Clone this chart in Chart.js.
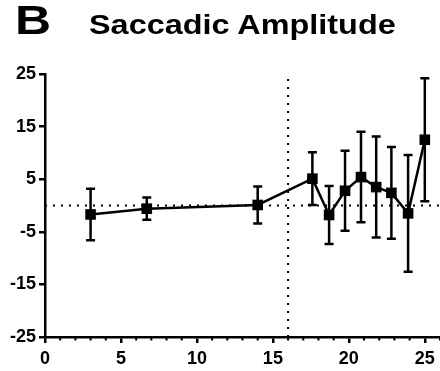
<!DOCTYPE html>
<html>
<head>
<meta charset="utf-8">
<script src="https://cdn.jsdelivr.net/npm/chart.js@4/dist/chart.umd.min.js"></script>
<style>
  html, body { margin: 0; padding: 0; background: #fff; }
  #wrap { position: relative; width: 440px; height: 371px; overflow: hidden; }
  #panel { position: absolute; left: 15px; top: -2px; font: bold 40px "Liberation Sans", Arial, sans-serif; line-height: 44px; color: #000; transform: scaleX(1.25); transform-origin: left top; }
  #title { position: absolute; left: 89px; top: 10px; font: bold 27px "Liberation Sans", Arial, sans-serif; line-height: 30px; color: #000; transform: scaleX(1.2); transform-origin: left top; white-space: nowrap; }
  canvas { position: absolute; left: 0; top: 0; }
</style>
</head>
<body>
<div id="wrap">
  <canvas id="c" width="440" height="371"></canvas>
  <div id="panel">B</div>
  <div id="title">Saccadic Amplitude</div>
</div>
<script>
const xValues = [3, 6.7, 14, 17.6, 18.7, 19.75, 20.8, 21.8, 22.8, 23.9, 25];
const meanValues = [-1.7, -0.6, 0.1, 5.1, -1.8, 2.8, 5.4, 3.5, 2.4, -1.5, 12.5];
const errValues = [4.9, 2.1, 3.5, 5.0, 5.5, 7.6, 8.6, 9.6, 8.7, 11.1, 11.7];
const xTickLabels = [0, 5, 10, 15, 20, 25];
const yTickLabels = [-25, -15, -5, 5, 15, 25];
const xRange = [0, 26];
const yRange = [-25, 25];
const refX = 16;
const refY = 0;

const points = xValues.map((x, i) => ({ x: x, y: meanValues[i] }));

const errorBarPlugin = {
  id: 'errorBars',
  afterDatasetsDraw(chart) {
    const xs = chart.scales.x, ys = chart.scales.y;
    const ctx = chart.ctx;
    ctx.save();
    ctx.strokeStyle = '#000';
    ctx.lineWidth = 2.5;
    ctx.lineCap = 'butt';
    xValues.forEach((x, i) => {
      const px = xs.getPixelForValue(x);
      const top = ys.getPixelForValue(meanValues[i] + errValues[i]);
      const bot = ys.getPixelForValue(meanValues[i] - errValues[i]);
      ctx.beginPath();
      ctx.moveTo(px, top); ctx.lineTo(px, bot);
      ctx.moveTo(px - 4.5, top); ctx.lineTo(px + 4.5, top);
      ctx.moveTo(px - 4.5, bot); ctx.lineTo(px + 4.5, bot);
      ctx.stroke();
    });
    ctx.restore();
  }
};

const minorTickPlugin = {
  id: 'minorTicks',
  afterDraw(chart) {
    const xs = chart.scales.x;
    const ctx = chart.ctx;
    const y0 = chart.chartArea.bottom;
    ctx.save();
    ctx.strokeStyle = '#000';
    ctx.lineWidth = 2;
    for (let v = xRange[0]; v <= xRange[1]; v++) {
      if (v % 5 === 0) continue;
      const px = xs.getPixelForValue(v);
      ctx.beginPath();
      ctx.moveTo(px, y0); ctx.lineTo(px, y0 + 3.5);
      ctx.stroke();
    }
    ctx.restore();
  }
};

const tickFont = { family: '"Liberation Sans", Arial, sans-serif', size: 18, weight: 'bold' };

new Chart(document.getElementById('c'), {
  type: 'scatter',
  data: {
    datasets: [
      {
        data: [{ x: xRange[0], y: refY }, { x: xRange[1], y: refY }],
        showLine: true, borderColor: '#000', borderWidth: 2, borderDash: [2, 6],
        pointRadius: 0, order: 3
      },
      {
        data: [{ x: refX, y: yRange[0] }, { x: refX, y: yRange[1] }],
        showLine: true, borderColor: '#000', borderWidth: 2, borderDash: [2, 6],
        pointRadius: 0, order: 2
      },
      {
        data: points,
        showLine: true, borderColor: '#000', borderWidth: 2.5, tension: 0,
        pointStyle: 'rect', pointRadius: 7.5, pointBackgroundColor: '#000',
        pointBorderColor: '#000', pointBorderWidth: 0, order: 1
      }
    ]
  },
  options: {
    responsive: false,
    animation: false,
    events: [],
    layout: { autoPadding: false, padding: { top: 74, right: 0, left: 0, bottom: 0 } },
    plugins: { legend: { display: false }, tooltip: { enabled: false } },
    scales: {
      x: {
        type: 'linear', min: xRange[0], max: xRange[1],
        afterBuildTicks: (s) => { s.ticks = xTickLabels.map(v => ({ value: v })); },
        afterFit: (s) => { s.height = 34; s.paddingLeft = 0; s.paddingRight = 0; },
        grid: { display: true, drawOnChartArea: false, drawTicks: true, tickLength: 6, color: '#000', lineWidth: 2.5 },
        border: { display: true, color: '#000', width: 2.5 },
        ticks: { color: '#000', padding: 5, maxRotation: 0, font: tickFont }
      },
      y: {
        type: 'linear', min: yRange[0], max: yRange[1],
        afterBuildTicks: (s) => { s.ticks = yTickLabels.map(v => ({ value: v })); },
        afterFit: (s) => { s.width = 45; s.paddingTop = 0; s.paddingBottom = 0; },
        grid: { display: true, drawOnChartArea: false, drawTicks: true, tickLength: 6, color: '#000', lineWidth: 2.5 },
        border: { display: true, color: '#000', width: 2.5 },
        ticks: { color: '#000', padding: 3, font: tickFont }
      }
    }
  },
  plugins: [errorBarPlugin, minorTickPlugin]
});
</script>
</body>
</html>
